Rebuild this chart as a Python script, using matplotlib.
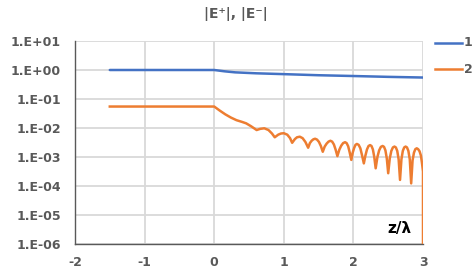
import matplotlib
matplotlib.use("Agg")
import matplotlib.pyplot as plt
from matplotlib.lines import Line2D
import numpy as np

# Series 1 (|E+|)
z1 = [-1.5, 0.0, 0.15, 0.3, 0.6, 1.0, 1.5, 2.0, 2.5, 3.0]
v1 = [1.0, 1.0, 0.90, 0.83, 0.77, 0.72, 0.66, 0.62, 0.58, 0.55]

# Series 2 (|E-|): positions and values read in decades (log10) off the log axis
z2 = [-1.5, 0.0, 0.08, 0.16, 0.24, 0.32, 0.40, 0.46, 0.53, 0.61,
      0.66, 0.72, 0.78, 0.83, 0.87, 0.92, 0.96, 1.00, 1.05, 1.09,
      1.12, 1.16, 1.19, 1.23, 1.27, 1.31, 1.35, 1.375, 1.40, 1.425,
      1.45, 1.4775, 1.505, 1.5325, 1.56, 1.5875, 1.615, 1.6425, 1.67, 1.695,
      1.72, 1.745, 1.77, 1.7975, 1.825, 1.8525, 1.88, 1.9025, 1.925, 1.9475,
      1.97, 1.99, 2.01, 2.03, 2.05, 2.075, 2.10, 2.125, 2.15, 2.1725,
      2.195, 2.2175, 2.24, 2.26, 2.28, 2.30, 2.32, 2.345, 2.37, 2.395,
      2.42, 2.44, 2.46, 2.48, 2.50, 2.5225, 2.545, 2.5675, 2.59, 2.61,
      2.63, 2.65, 2.67, 2.69, 2.71, 2.73, 2.75, 2.77, 2.79, 2.81,
      2.83, 2.85, 2.87, 2.89, 2.91, 2.93, 2.95, 2.97, 2.985, 3.0,
      3.0]
log_v2 = [-1.26, -1.26, -1.40, -1.53, -1.64, -1.73, -1.79, -1.84, -1.94, -2.07,
          -2.03, -2.01, -2.07, -2.19, -2.32, -2.23, -2.19, -2.18, -2.23, -2.35,
          -2.51, -2.38, -2.32, -2.30, -2.35, -2.48, -2.68, -2.52, -2.44, -2.39,
          -2.37, -2.40, -2.48, -2.62, -2.82, -2.64, -2.54, -2.47, -2.44, -2.47,
          -2.57, -2.75, -2.97, -2.75, -2.61, -2.52, -2.49, -2.52, -2.63, -2.85,
          -3.10, -2.85, -2.69, -2.58, -2.55, -2.58, -2.70, -2.95, -3.22, -2.95,
          -2.74, -2.62, -2.59, -2.62, -2.74, -3.00, -3.39, -3.00, -2.77, -2.65,
          -2.62, -2.65, -2.77, -3.05, -3.56, -3.05, -2.79, -2.67, -2.64, -2.67,
          -2.79, -3.08, -3.79, -3.08, -2.79, -2.67, -2.64, -2.67, -2.79, -3.08,
          -3.91, -3.12, -2.85, -2.73, -2.70, -2.73, -2.80, -2.95, -3.20, -3.50,
          -6.50]
v2 = [10.0 ** L for L in log_v2]

x_ticks = [-2, -1, 0, 1, 2, 3]
y_ticks = [1e1, 1e0, 1e-1, 1e-2, 1e-3, 1e-4, 1e-5, 1e-6]
y_labels = ["1.E+01", "1.E+00", "1.E-01", "1.E-02", "1.E-03", "1.E-04", "1.E-05", "1.E-06"]
labels = ["1", "2"]
title = "|E\u207a|, |E\u207b|"

plt.rcParams['font.family'] = ['DejaVu Sans']

fig = plt.figure(figsize=(4.72, 2.75), dpi=100)
ax = fig.add_axes([75/472, 1-244/275, 348/472, 203/275])

blue = "#4472C4"
orange = "#ED7D31"
gray = "#595959"

ax.plot(z1, v1, color=blue, lw=1.8, solid_capstyle='round', zorder=3)
ax.plot(z2, v2, color=orange, lw=1.8, solid_joinstyle='round', zorder=3)

ax.set_yscale('log')
ax.set_xlim(-2, 3)
ax.set_ylim(1e-6, 1e1)
ax.set_xticks(x_ticks)
ax.set_xticklabels([str(t) for t in x_ticks])
ax.set_yticks(y_ticks)
ax.set_yticklabels(y_labels)
ax.yaxis.set_minor_locator(matplotlib.ticker.NullLocator())
ax.tick_params(length=0, labelsize=9, labelcolor=gray)
ax.tick_params(axis='y', pad=10)
ax.tick_params(axis='x', pad=9)
for lab in ax.get_xticklabels() + ax.get_yticklabels():
    lab.set_fontweight('bold')

ax.grid(True, which='major', color="#D9D9D9", lw=1.3)
ax.set_axisbelow(True)

for s in ['top', 'right']:
    ax.spines[s].set_visible(False)
for s in ['left', 'bottom']:
    ax.spines[s].set_color(gray)
    ax.spines[s].set_linewidth(1.0)

fig.text(236/472, 1-14/275, title, ha='center', va='center', fontsize=10,
         fontweight='bold', color=gray)
fig.text(412/472, 1-228/275, "z/λ", ha='right', va='center', fontsize=11,
         fontweight='bold', color='black')

# legend (outside right)
for i, (lab, col) in enumerate(zip(labels, [blue, orange])):
    yy = 1 - (43 + 26*i)/275
    fig.add_artist(Line2D([435/472, 462/472], [yy, yy], color=col, lw=1.8,
                          transform=fig.transFigure))
    fig.text(464/472, yy, lab, ha='left', va='center', fontsize=9,
             fontweight='bold', color=gray)

fig.savefig("out.png", dpi=100)
